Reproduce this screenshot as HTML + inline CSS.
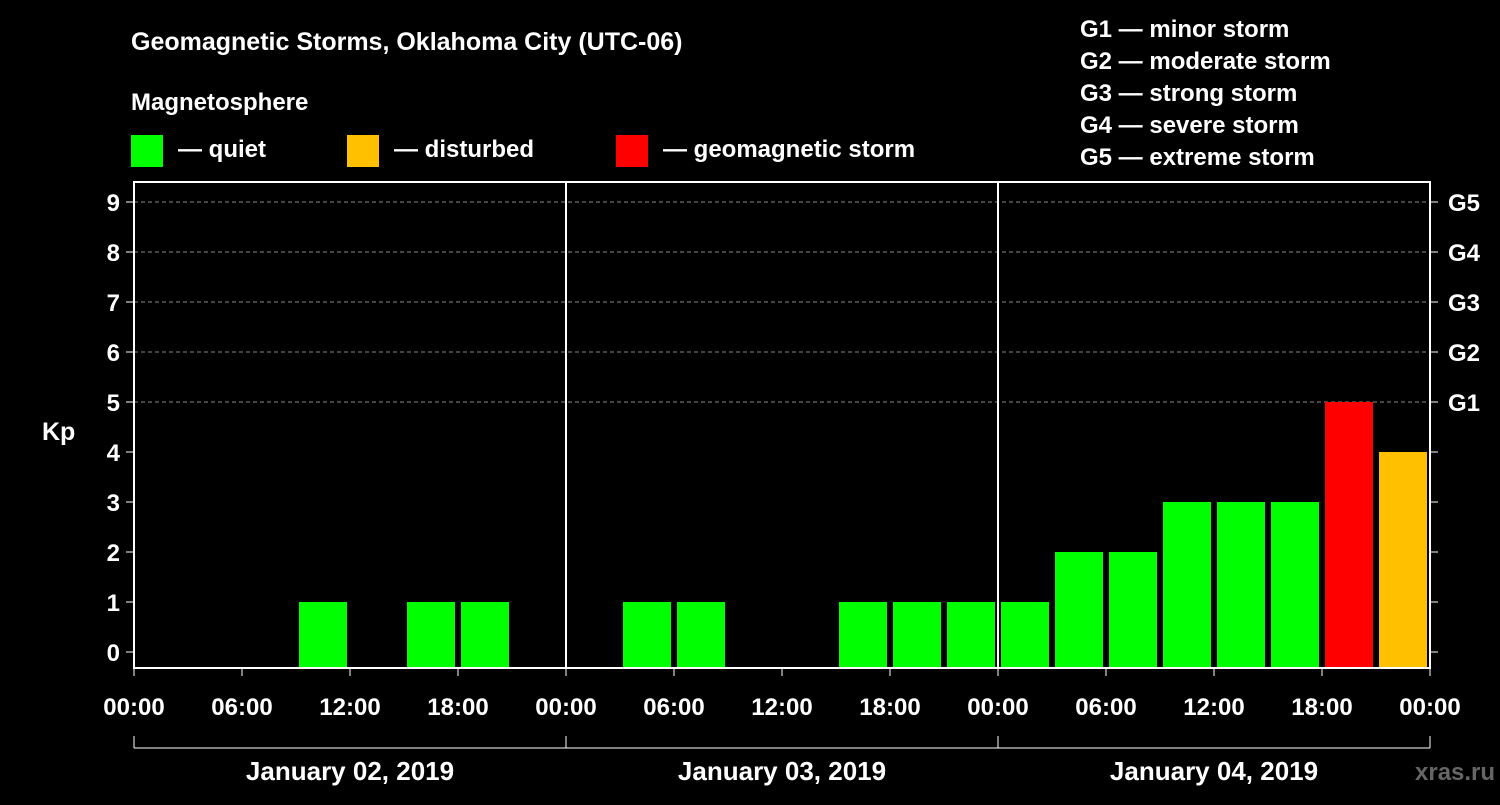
<!DOCTYPE html>
<html><head><meta charset="utf-8"><style>
body{margin:0;background:#000;width:1500px;height:800px;overflow:hidden}
svg text{font-family:"Liberation Sans",Arial,sans-serif;font-weight:bold;fill:#fff}
</style></head><body>
<svg id="c" width="1500" height="800" xmlns="http://www.w3.org/2000/svg">
<rect width="1500" height="800" fill="#000"/>
<text x="131" y="50" font-size="25">Geomagnetic Storms, Oklahoma City (UTC-06)</text>
<text x="131" y="110" font-size="24">Magnetosphere</text>
<g><rect x="131" y="135" width="32" height="32" fill="#00ff00"/><text x="178" y="157" font-size="24">— quiet</text></g>
<g><rect x="347" y="135" width="32" height="32" fill="#ffc000"/><text x="394" y="157" font-size="24">— disturbed</text></g>
<g><rect x="616" y="135" width="32" height="32" fill="#ff0000"/><text x="663" y="157" font-size="24">— geomagnetic storm</text></g>
<g font-size="24">
<text x="1080" y="37">G1 — minor storm</text><text x="1080" y="69">G2 — moderate storm</text><text x="1080" y="101">G3 — strong storm</text><text x="1080" y="133">G4 — severe storm</text><text x="1080" y="165">G5 — extreme storm</text></g>
<text x="42" y="440" font-size="25">Kp</text>
<text x="1415" y="780" font-size="24" fill="#555" style="fill:#666">xras.ru</text>
<g id="plot"></g>
</svg>
<script>
const days=["January 02, 2019","January 03, 2019","January 04, 2019"];
const kpValues=[0,0,0,1,0,1,1,0, 0,1,1,0,0,1,1,1, 1,2,2,3,3,3,5,4];
const yTicks=[0,1,2,3,4,5,6,7,8,9];
const gLabels=["G1","G2","G3","G4","G5"];
const xTickLabels=["00:00","06:00","12:00","18:00"];
const X0=134,X1=1430,TOP=182,BOT=668;
const hourW=(X1-X0)/72;
const xs=h=>X0+h*hourW;
const ys=k=>652-k*50;
const NS="http://www.w3.org/2000/svg";
const P=document.getElementById('plot');
function mk(t,a,parent){const e=document.createElementNS(NS,t);for(const k in a)e.setAttribute(k,a[k]);(parent||P).appendChild(e);return e;}
// grid
for(let k=5;k<=9;k++){const l=mk('line',{x1:X0,x2:X1,y1:ys(k),y2:ys(k),stroke:'#888','stroke-dasharray':'4,3','stroke-width':1});

}
// bars
kpValues.forEach((v,i)=>{if(v<=0)return;const c=v>=5?'#ff0000':v>=4?'#ffc000':'#00ff00';
const r=mk('rect',{x:xs(i*3)+3,width:hourW*3-6,y:ys(v),height:BOT-ys(v),fill:c});

});
// frame
const f=mk('rect',{x:X0,y:TOP,width:X1-X0,height:BOT-TOP,fill:'none',stroke:'#fff','stroke-width':2});


for(let d=1;d<3;d++){const l=mk('line',{x1:xs(d*24),x2:xs(d*24),y1:TOP,y2:BOT,stroke:'#fff','stroke-width':2});

}
// y ticks
yTicks.forEach(k=>{mk('line',{x1:X0-8,x2:X0,y1:ys(k),y2:ys(k),stroke:'#fff','stroke-width':1});
mk('line',{x1:X1,x2:X1+8,y1:ys(k),y2:ys(k),stroke:'#fff','stroke-width':1});
const t=mk('text',{x:X0-14,y:ys(k)+9,'font-size':24,'text-anchor':'end'});t.textContent=k;

});
gLabels.forEach((g,i)=>{const t=mk('text',{x:X1+18,y:ys(5+i)+9,'font-size':24});t.textContent=g;

});
// x ticks
for(let h=0;h<=72;h+=6){const x=xs(h);mk('line',{x1:x,x2:x,y1:BOT,y2:BOT+8,stroke:'#fff','stroke-width':1});
const t=mk('text',{x:x,y:715,'font-size':24,'text-anchor':'middle'});t.textContent=xTickLabels[(h/6)%4];

}
// day brackets
mk('line',{x1:X0,x2:X1,y1:748,y2:748,stroke:'#fff','stroke-width':1});
for(let d=0;d<=3;d++)mk('line',{x1:xs(d*24),x2:xs(d*24),y1:736,y2:748,stroke:'#fff','stroke-width':1});
days.forEach((d,i)=>{const t=mk('text',{x:xs(i*24+12),y:780,'font-size':26,'text-anchor':'middle'});t.textContent=d;

});
</script>
</body></html>
